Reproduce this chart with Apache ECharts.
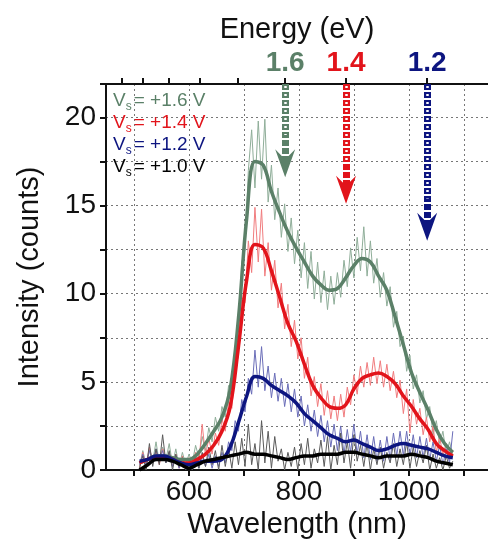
<!DOCTYPE html>
<html>
<head>
<meta charset="utf-8">
<script src="https://cdn.jsdelivr.net/npm/echarts@6.0.0/dist/echarts.min.js"></script>
<style>
  html, body { margin: 0; padding: 0; background: #fff; }
  #chart { width: 488px; height: 540px; }
</style>
</head>
<body>
<div id="chart"></div>
<script>
// raw spectra, every 6 nm
var rawWavelength = [510,516,522,528,534,540,546,552,558,564,570,576,582,588,594,600,606,612,618,624,630,636,642,648,654,660,666,672,678,684,690,696,702,708,714,720,726,732,738,744,750,756,762,768,774,780,786,792,798,804,810,816,822,828,834,840,846,852,858,864,870,876,882,888,894,900,906,912,918,924,930,936,942,948,954,960,966,972,978,984,990,996,1002,1008,1014,1020,1026,1032,1038,1044,1050,1056,1062,1068,1074,1080]
var rawV16 = [0.2,1.1,0.3,1.2,0.5,1.6,0.4,1.3,0.6,1.5,0.3,1.2,0.2,1.0,0.3,0.9,
  0.4,1.4,0.7,1.9,1.1,2.4,1.6,3.0,2.2,3.6,3.0,4.8,4.6,7.0,8.0,11.8,12.5,17.0,19.3,16.0,
  19.8,16.5,19.9,15.2,17.3,14.2,16.0,13.2,15.1,12.4,14.3,11.7,13.6,10.9,12.9,10.3,12.4,9.7,11.8,9.5,
  11.3,9.1,11.0,9.4,11.2,9.8,11.9,10.4,12.6,10.9,13.2,11.3,13.8,11.0,13.0,10.6,12.0,9.8,11.2,9.3,
  10.4,8.1,9.0,7.0,7.6,5.6,6.5,4.6,5.4,3.8,4.5,2.9,3.6,2.0,2.8,1.5,2.2,0.9,1.6,0.8]
var rawV14 = [0.1,1.0,0.2,1.3,0.4,1.1,0.3,1.2,0.5,1.0,0.2,0.9,0.1,0.8,0.1,0.7,
  0.2,1.0,0.4,2.6,0.8,1.8,0.9,2.1,1.4,2.9,2.2,3.9,3.5,6.0,6.4,9.8,9.5,13.0,11.2,14.9,
  11.8,14.8,11.0,12.9,10.2,11.9,9.2,10.6,8.0,9.4,7.0,8.5,6.3,7.5,5.2,6.4,4.2,5.3,3.6,4.9,
  3.1,4.5,2.9,4.2,2.8,4.3,3.0,4.7,3.7,5.4,4.3,5.9,4.7,6.1,4.8,6.4,4.9,6.2,4.7,6.0,
  4.5,5.6,4.1,5.1,3.2,4.6,2.1,4.0,2.6,3.5,2.0,3.0,1.6,2.5,1.0,1.9,0.8,1.5,0.6,1.1]
var rawV12 = [0.3,0.9,0.2,1.1,0.4,1.2,0.5,1.1,0.4,1.0,0.2,0.8,0.1,0.6,0.0,0.5,
  0.0,0.7,0.1,0.8,0.2,0.9,0.1,0.8,0.2,1.0,0.4,1.6,1.1,2.8,2.2,4.0,3.3,5.2,4.3,6.8,
  4.7,7.0,4.5,5.9,4.1,5.5,3.9,5.2,3.6,4.9,3.3,4.6,3.0,4.2,2.5,3.7,2.2,3.4,1.9,3.1,
  1.6,2.8,1.3,2.6,1.1,2.5,0.9,2.3,1.0,2.6,0.9,2.2,0.7,2.0,0.6,1.9,0.5,1.7,0.5,1.9,
  0.6,2.1,0.8,2.2,0.8,2.2,0.8,2.0,0.7,1.9,0.7,1.8,0.6,1.6,0.5,1.4,0.3,1.2,0.4,2.2]
var rawV10 = [0.1,0.8,0.0,1.5,0.2,1.2,0.3,2.0,0.4,1.1,0.0,0.9,0.2,0.7,0.0,0.4,
  0.0,0.8,0.1,1.0,0.2,1.3,0.3,1.1,0.0,1.4,0.2,1.2,0.1,1.6,0.3,1.8,0.2,2.6,0.3,1.5,
  0.0,2.8,0.4,2.2,0.1,1.9,0.5,1.2,0.0,1.0,0.2,1.3,0.0,1.5,0.3,1.8,0.1,1.2,0.4,1.7,
  0.2,1.9,0.0,1.4,0.3,2.1,0.4,1.6,0.1,2.0,0.5,1.4,0.2,1.5,0.0,1.2,0.3,1.3,0.1,1.0,
  0.4,1.5,0.2,1.2,0.3,1.6,0.1,1.3,0.2,1.1,0.4,1.4,0.0,0.9,0.1,0.7,0.0,0.8,0.1,0.5]

// smoothed spectra, every 15 nm
var smoothWavelength = [510,525,540,555,570,585,600,615,630,645,660,675,690,705,720,735,750,765,780,795,810,825,840,855,870,885,900,915,930,945,960,975,990,1005,1020,1035,1050,1065,1080]
var smoothV16 = [0.4,0.6,0.8,0.8,0.7,0.6,0.6,0.9,1.5,2.2,3.0,4.6,8.6,14.3,17.5,17.3,15.8,14.6,13.5,12.6,11.8,11.0,10.5,10.2,10.3,10.9,11.6,12.0,11.8,11.0,10.2,8.7,7.1,5.5,4.4,3.4,2.3,1.5,1.0]
var smoothV14 = [0.4,0.6,0.7,0.7,0.6,0.4,0.4,0.6,0.9,1.4,2.2,3.6,7.0,10.8,12.8,12.6,11.3,9.8,8.3,7.3,6.0,4.8,4.1,3.6,3.5,3.7,4.6,5.2,5.4,5.5,5.3,4.9,4.2,3.6,2.9,2.3,1.5,1.1,0.8]
var smoothV12 = [0.5,0.6,0.8,0.8,0.6,0.4,0.3,0.4,0.5,0.5,0.6,1.3,2.7,4.2,5.3,5.2,4.8,4.5,4.2,3.8,3.2,2.8,2.4,2.0,1.8,1.6,1.7,1.5,1.3,1.1,1.2,1.4,1.5,1.4,1.3,1.2,1.0,0.8,0.7]
var smoothV10 = [0.0,0.3,0.6,0.6,0.5,0.3,0.1,0.3,0.5,0.6,0.7,0.8,0.9,1.0,0.9,0.9,0.8,0.7,0.6,0.7,0.8,0.8,0.9,0.9,0.9,1.0,1.0,0.9,0.8,0.7,0.8,0.8,0.8,0.9,0.8,0.7,0.5,0.4,0.3]

var biasLabels = ['+1.6', '+1.4', '+1.2', '+1.0']
var wavelengthTicks = [500, 600, 700, 800, 900, 1000, 1100]
var wavelengthLabels = [600, 800, 1000]
var energyTicks = [2.6, 2.4, 2.2, 2.0, 1.8, 1.6, 1.4, 1.2]
var arrowEnergy = [1.6, 1.4, 1.2]
var arrowTip = [17.4, 15.9, 13.8]

var lineColors = ['#5b8068', '#e2141b', '#0d1580', '#000000']
var rawColors = ['#8fae99', '#f07c7e', '#6a6db8', '#5a5a5a']
var keys = ['g', 'r', 'b', 'k']
var font = 'Liberation Sans, Arial, sans-serif'
// swept-back arrowhead, drawn pointing up; echarts turns it along the line
var arrowHead = 'path://M50,0 L100,100 L50,64 L0,100 Z'

function pairs(xs, ys) {
  return xs.map(function(x, i) { return [x, ys[i]] })
}
function toNm(e) {
  return 1240 / e
}

var rawData = [rawV16, rawV14, rawV12, rawV10]
var smoothData = [smoothV16, smoothV14, smoothV12, smoothV10]
var names = biasLabels.map(function(b) { return 'Vs = ' + b + ' V' })

var series = []
rawData.forEach(function(d, i) {
  series.push({
    name: 'raw ' + names[i],
    type: 'line',
    data: pairs(rawWavelength, d),
    showSymbol: false,
    silent: true,
    lineStyle: { color: rawColors[i], width: 1 },
    itemStyle: { color: rawColors[i] }
  })
})
smoothData.forEach(function(d, i) {
  series.push({
    name: names[i],
    type: 'line',
    data: pairs(smoothWavelength, d),
    smooth: 0.4,
    showSymbol: false,
    lineStyle: { color: lineColors[i], width: 3.5 },
    itemStyle: { color: lineColors[i] }
  })
})

// dashed arrows hanging from the energy axis
var arrowLines = []
arrowEnergy.forEach(function(e, i) {
  var c = lineColors[i]
  arrowLines.push([
    { coord: [toNm(e), 21.9], symbol: 'none', lineStyle: { color: c, width: 7, type: [6, 2], cap: 'butt' }, itemStyle: { color: c } },
    { coord: [toNm(e), arrowTip[i]], symbol: arrowHead, symbolSize: [20, 28] }
  ])
  arrowLines.push([
    { coord: [toNm(e), 21.9], symbol: 'none', lineStyle: { color: '#fff', width: 2.5, type: [2, 6], dashOffset: -2, cap: 'butt' } },
    { coord: [toNm(e), arrowTip[i] + 1.6], symbol: 'none' }
  ])
})
series.push({
  name: 'arrows',
  type: 'line',
  data: [],
  markLine: {
    silent: true,
    animation: false,
    label: { show: false },
    emphasis: { disabled: true },
    data: arrowLines
  }
})

var legendRich = {}
keys.forEach(function(k, i) {
  legendRich[k] = { color: lineColors[i], fontSize: 19, fontFamily: font, lineHeight: 25 }
  legendRich[k + 's'] = { color: lineColors[i], fontSize: 12, fontFamily: font, lineHeight: 17, verticalAlign: 'bottom', padding: [0, 2, 0, 0] }
})
var energyRich = {}
keys.forEach(function(k, i) {
  energyRich[k] = { color: lineColors[i], fontSize: 28, fontWeight: 'bold', fontFamily: font }
})

var axisColor = '#111'
var chart = echarts.init(document.getElementById('chart'))
chart.setOption({
  animation: false,
  backgroundColor: '#fff',
  grid: { left: 106, right: 0, top: 84, bottom: 70, containLabel: false, outerBoundsMode: 'none' },
  legend: {
    data: names,
    left: 103,
    top: 86,
    orient: 'vertical',
    icon: 'none',
    itemWidth: 0,
    itemHeight: 0,
    itemGap: 0,
    selectedMode: false,
    formatter: function(name) {
      var i = names.indexOf(name)
      var k = keys[i]
      return '{' + k + '|V}{' + k + 's|s}{' + k + '|= ' + biasLabels[i] + ' V}'
    },
    textStyle: { rich: legendRich }
  },
  xAxis: [
    {
      type: 'value',
      position: 'bottom',
      min: 449,
      max: 1144,
      name: 'Wavelength (nm)',
      nameLocation: 'middle',
      nameGap: 40,
      nameTextStyle: { fontSize: 29, color: axisColor, fontFamily: font },
      axisLine: { lineStyle: { color: axisColor, width: 2 } },
      axisTick: { customValues: wavelengthTicks, length: 6, lineStyle: { color: axisColor, width: 2 } },
      axisLabel: {
        customValues: wavelengthLabels,
        fontSize: 28,
        color: axisColor,
        fontFamily: font,
        margin: 8,
        formatter: function(v) { return String(v) }
      },
      splitLine: { show: true, lineStyle: { color: '#777', width: 1, type: [2, 3] } }
    },
    {
      type: 'value',
      position: 'top',
      min: 449,
      max: 1144,
      name: 'Energy (eV)',
      nameLocation: 'middle',
      nameGap: 37,
      nameTextStyle: { fontSize: 29, color: axisColor, fontFamily: font },
      axisLine: { lineStyle: { color: axisColor, width: 2 } },
      axisTick: { customValues: energyTicks.map(toNm), length: 6, lineStyle: { color: axisColor, width: 2 } },
      axisLabel: {
        customValues: arrowEnergy.map(toNm),
        margin: 7,
        formatter: function(v) {
          var best = 0
          arrowEnergy.forEach(function(e, i) {
            if (Math.abs(toNm(e) - v) < Math.abs(toNm(arrowEnergy[best]) - v)) best = i
          })
          return '{' + keys[best] + '|' + arrowEnergy[best].toFixed(1) + '}'
        },
        rich: energyRich
      },
      splitLine: { show: false }
    }
  ],
  yAxis: {
    type: 'value',
    min: 0,
    max: 21.9,
    interval: 2.5,
    name: 'Intensity (counts)',
    nameLocation: 'middle',
    nameGap: 62,
    nameTextStyle: { fontSize: 29, color: axisColor, fontFamily: font },
    axisLine: { show: true, lineStyle: { color: axisColor, width: 2 } },
    axisTick: { show: true, length: 6, lineStyle: { color: axisColor, width: 2 } },
    axisLabel: {
      fontSize: 28,
      color: axisColor,
      fontFamily: font,
      margin: 10,
      formatter: function(v) { return v % 5 === 0 ? String(v) : '' }
    },
    splitLine: { show: true, lineStyle: { color: '#777', width: 1, type: [2, 3] } }
  },
  series: series
})
</script>
</body>
</html>
